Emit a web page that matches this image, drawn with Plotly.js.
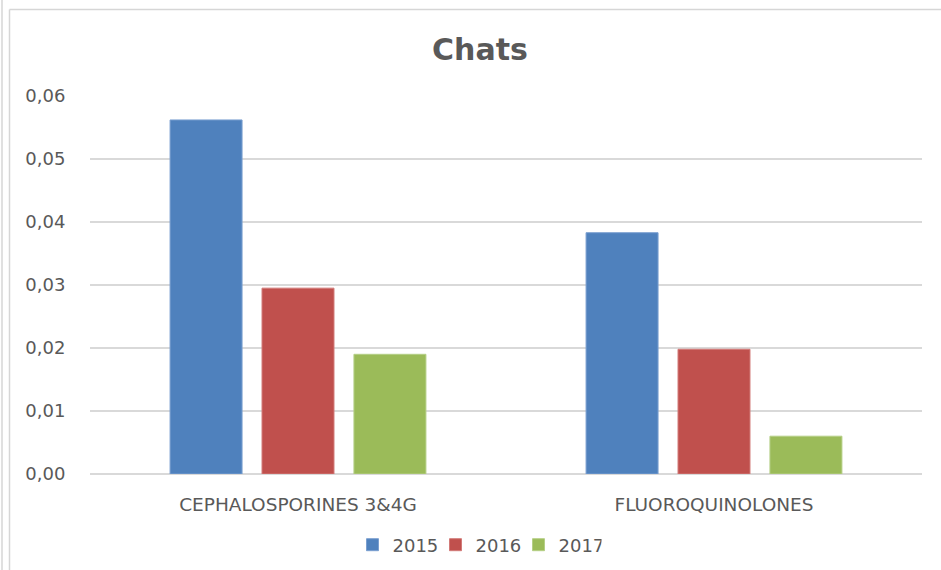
<!DOCTYPE html>
<html>
<head>
<meta charset="utf-8">
<script src="https://cdn.plot.ly/plotly-3.0.1.min.js"></script>
<style>html,body{margin:0;padding:0;background:#fff;}#chart{width:941px;height:570px;}</style>
</head>
<body>
<div id="chart"></div>
<script>
const categories = ["CEPHALOSPORINES 3&4G", "FLUOROQUINOLONES"];
const series_names = ["2015", "2016", "2017"];
const values_2015 = [0.0562, 0.0383];
const values_2016 = [0.0295, 0.0198];
const values_2017 = [0.0190, 0.0060];
const y_ticks = [0, 0.01, 0.02, 0.03, 0.04, 0.05, 0.06];
const y_tick_labels = ["0,00", "0,01", "0,02", "0,03", "0,04", "0,05", "0,06"];

const colors = ["#4f81bd", "#c0504d", "#9bbb59"];
const edge = ["#7a9fd0", "#d27a78", "#b5cf86"];
const allVals = [values_2015, values_2016, values_2017];

const traces = series_names.map((n, i) => ({
  type: "bar",
  name: n,
  x: categories,
  y: allVals[i],
  marker: {color: colors[i], line: {color: edge[i], width: 1}},
  hoverinfo: "skip"
}));

const W = 941, H = 570, L = 90, R = 19, T = 96, B = 96;
const pw = W - L - R, ph = H - T - B;
const px = v => (v - L) / pw;
const py = v => (H - B - v) / ph;

const borderColor = "#d6d6d6";
const layout = {
  width: W, height: H,
  margin: {l: L, r: R, t: T, b: B, pad: 0},
  paper_bgcolor: "#fff",
  plot_bgcolor: "#fff",
  font: {family: "DejaVu Sans, sans-serif", color: "#595959", size: 18},
  title: {
    text: "<b>Chats</b>",
    font: {family: "DejaVu Sans, sans-serif", size: 30, color: "#595959"},
    xref: "container", x: 480 / W, xanchor: "center",
    yref: "container", y: 1 - 49 / H, yanchor: "middle"
  },
  barmode: "group",
  bargap: 0.337,
  bargroupgap: 0.217,
  xaxis: {
    showgrid: false,
    showline: false,
    ticks: "outside", ticklen: 14, tickcolor: "rgba(0,0,0,0)",
    tickfont: {size: 18.5, color: "#595959"},
    fixedrange: true
  },
  yaxis: {
    range: [0, 0.06],
    tickvals: y_ticks,
    ticktext: y_tick_labels,
    showgrid: true, gridcolor: "#d9d9d9", gridwidth: 1.5,
    zeroline: true, zerolinecolor: "#d9d9d9", zerolinewidth: 1.5,
    showline: false,
    ticks: "outside", ticklen: 20, tickcolor: "rgba(0,0,0,0)",
    tickfont: {size: 18, color: "#595959"},
    fixedrange: true
  },
  showlegend: true,
  legend: {
    orientation: "h",
    xref: "container", x: 477 / W, xanchor: "center",
    yref: "container", y: 1 - 545 / H, yanchor: "middle",
    font: {size: 18, color: "#595959"},
    itemwidth: 30,
    entrywidth: 38,
    entrywidthmode: "pixels",
    traceorder: "normal"
  },
  shapes: [
    {type: "line", xref: "paper", yref: "paper", x0: px(2), x1: px(2), y0: py(0), y1: py(H), line: {color: borderColor, width: 1.5}},
    {type: "line", xref: "paper", yref: "paper", x0: px(9.5), x1: px(9.5), y0: py(9.5), y1: py(H), line: {color: borderColor, width: 1.5}},
    {type: "line", xref: "paper", yref: "paper", x0: px(9.5), x1: px(W), y0: py(9.5), y1: py(9.5), line: {color: borderColor, width: 1.5}}
  ]
};

Plotly.newPlot("chart", traces, layout, {displayModeBar: false, staticPlot: true});
</script>
</body>
</html>
